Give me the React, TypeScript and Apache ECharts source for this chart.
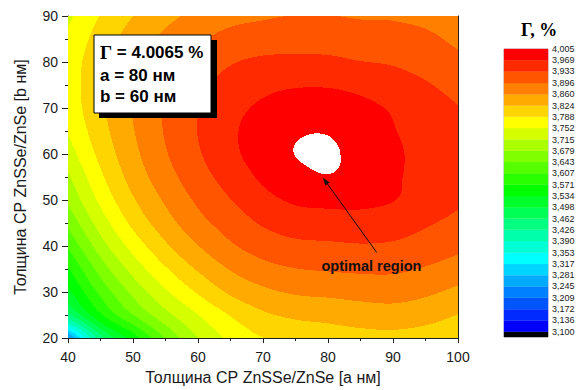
import React, { useEffect, useRef } from "react";
import * as echarts from "echarts";

// ---- data ----
const THICKNESS_A = [40, 45, 50, 55, 60, 65, 70, 75, 80, 85, 90, 95, 100];
const THICKNESS_B = [20, 25, 30, 35, 40, 45, 50, 55, 60, 65, 70, 75, 80, 85, 90];
// Γ (%) : one row per b value (b = 20 ... 90), columns a = 40 ... 100
const GAMMA_B20 = [3.23, 3.445, 3.55, 3.645, 3.715, 3.76, 3.787, 3.8, 3.805, 3.81, 3.812, 3.806, 3.794];
const GAMMA_B25 = [3.45, 3.565, 3.642, 3.703, 3.751, 3.79, 3.818, 3.83, 3.835, 3.842, 3.845, 3.838, 3.823];
const GAMMA_B30 = [3.525, 3.616, 3.688, 3.746, 3.792, 3.83, 3.852, 3.864, 3.868, 3.872, 3.874, 3.866, 3.852];
const GAMMA_B35 = [3.567, 3.658, 3.728, 3.784, 3.828, 3.862, 3.884, 3.895, 3.899, 3.902, 3.902, 3.893, 3.879];
const GAMMA_B40 = [3.612, 3.698, 3.765, 3.818, 3.859, 3.891, 3.912, 3.924, 3.927, 3.93, 3.928, 3.918, 3.905];
const GAMMA_B45 = [3.652, 3.732, 3.797, 3.845, 3.884, 3.912, 3.937, 3.951, 3.954, 3.956, 3.95, 3.937, 3.924];
const GAMMA_B50 = [3.685, 3.76, 3.82, 3.865, 3.902, 3.932, 3.958, 3.974, 3.978, 3.977, 3.97, 3.954, 3.938];
const GAMMA_B55 = [3.71, 3.781, 3.838, 3.881, 3.918, 3.948, 3.975, 3.995, 4.0035, 3.993, 3.974, 3.958, 3.944];
const GAMMA_B60 = [3.735, 3.798, 3.85, 3.893, 3.929, 3.96, 3.986, 4.0055, 4.0065, 3.999, 3.975, 3.96, 3.945];
const GAMMA_B65 = [3.754, 3.81, 3.858, 3.899, 3.934, 3.963, 3.985, 4.001, 4.0035, 3.993, 3.971, 3.957, 3.942];
const GAMMA_B70 = [3.765, 3.817, 3.862, 3.9, 3.932, 3.958, 3.975, 3.986, 3.988, 3.979, 3.965, 3.949, 3.934];
const GAMMA_B75 = [3.768, 3.818, 3.86, 3.896, 3.924, 3.947, 3.96, 3.966, 3.966, 3.959, 3.947, 3.936, 3.922];
const GAMMA_B80 = [3.767, 3.814, 3.853, 3.885, 3.91, 3.93, 3.94, 3.941, 3.94, 3.934, 3.93, 3.921, 3.906];
const GAMMA_B85 = [3.758, 3.804, 3.84, 3.869, 3.891, 3.908, 3.914, 3.919, 3.918, 3.913, 3.911, 3.905, 3.887];
const GAMMA_B90 = [3.745, 3.79, 3.824, 3.85, 3.87, 3.885, 3.892, 3.897, 3.897, 3.893, 3.892, 3.884, 3.868];
const GAMMA = [
  GAMMA_B20, GAMMA_B25, GAMMA_B30, GAMMA_B35, GAMMA_B40, GAMMA_B45, GAMMA_B50, GAMMA_B55,
  GAMMA_B60, GAMMA_B65, GAMMA_B70, GAMMA_B75, GAMMA_B80, GAMMA_B85, GAMMA_B90,
];
// contour levels (colour-scale labels)
const LEVELS = [
  3.1, 3.136, 3.172, 3.209, 3.245, 3.281, 3.317, 3.353, 3.39, 3.426, 3.462, 3.498, 3.534,
  3.571, 3.607, 3.643, 3.679, 3.715, 3.752, 3.788, 3.824, 3.86, 3.896, 3.933, 3.969, 4.005,
];
const COLORBAR_FLOOR = 3.083;

// ---- styles ----
const PALETTE = [
  "#0000ff", "#002aff", "#0055ff", "#0080ff", "#00aaff", "#00d5ff", "#00ffff",
  "#00ffd5", "#00ffaa", "#00ff80", "#00ff55", "#00ff2a", "#00ff00",
  "#2aff00", "#55ff00", "#80ff00", "#aaff00", "#d5ff00", "#ffff00",
  "#ffd500", "#ffaa00", "#ff8000", "#ff5500", "#ff2a00", "#ff0000",
];
const BELOW_COLOR = "#000000";
const ABOVE_COLOR = "#ffffff";
const SANS = "'Liberation Sans', Arial, sans-serif";
const SERIF = "'Liberation Serif', 'Times New Roman', serif";
const ANNOT_FROM = [87.5, 38.6];
const ANNOT_TO = [79.2, 54.9];
const ANNOT_TEXT_AT = [79.0, 35.7];

function bandOf(v: number): number {
  if (v <= LEVELS[0]) return -1;
  for (let k = 0; k < LEVELS.length - 1; k++) if (v <= LEVELS[k + 1]) return k;
  return LEVELS.length - 1;
}
function colorOfBand(k: number): string {
  if (k < 0) return BELOW_COLOR;
  if (k >= PALETTE.length) return ABOVE_COLOR;
  return PALETTE[k];
}
const nA = THICKNESS_A.length;
const nB = THICKNESS_B.length;
function gridVal(i: number, j: number): number {
  // linear extension beyond the edges of the table
  if (i < 0) return 2 * gridVal(0, j) - gridVal(1, j);
  if (i > nA - 1) return 2 * gridVal(nA - 1, j) - gridVal(nA - 2, j);
  if (j < 0) return 2 * gridVal(i, 0) - gridVal(i, 1);
  if (j > nB - 1) return 2 * gridVal(i, nB - 1) - gridVal(i, nB - 2);
  return GAMMA[j][i];
}
function cr(p0: number, p1: number, p2: number, p3: number, t: number) {
  return p1 + 0.5 * t * (p2 - p0 + t * (2 * p0 - 5 * p1 + 4 * p2 - p3 + t * (3 * (p1 - p2) + p3 - p0)));
}
function sample(a: number, b: number): number {
  const fx = (a - THICKNESS_A[0]) / (THICKNESS_A[1] - THICKNESS_A[0]);
  const fy = (b - THICKNESS_B[0]) / (THICKNESS_B[1] - THICKNESS_B[0]);
  const i = Math.max(0, Math.min(nA - 2, Math.floor(fx)));
  const j = Math.max(0, Math.min(nB - 2, Math.floor(fy)));
  const tx = fx - i;
  const ty = fy - j;
  const col: number[] = [];
  for (let m = -1; m <= 2; m++) {
    col.push(cr(gridVal(i - 1, j + m), gridVal(i, j + m), gridVal(i + 1, j + m), gridVal(i + 2, j + m), tx));
  }
  return cr(col[0], col[1], col[2], col[3], ty);
}

export default function App() {
  const ref = useRef<HTMLDivElement>(null);
  useEffect(() => {
    if (!ref.current) return;
    const chart = echarts.init(ref.current, undefined, { renderer: "svg" });

    const cells: number[][] = [];
    for (let j = 0; j < nB - 1; j++)
      for (let i = 0; i < nA - 1; i++) cells.push([THICKNESS_A[i], THICKNESS_B[j], GAMMA[j][i]]);

    const bands: number[][] = [[COLORBAR_FLOOR, LEVELS[0], -1]];
    for (let k = 0; k < LEVELS.length - 1; k++) bands.push([LEVELS[k], LEVELS[k + 1], k]);

    let best = { v: -Infinity, a: 0, b: 0 };
    GAMMA.forEach((row, j) =>
      row.forEach((v, i) => {
        if (v > best.v) best = { v, a: THICKNESS_A[i], b: THICKNESS_B[j] };
      })
    );

    const axisFont = { fontFamily: SANS, fontSize: 14, color: "#1a1a1a" };
    chart.setOption({
      animation: false,
      title: {
        text: "Γ, %",
        left: 516,
        top: 16,
        textStyle: { fontFamily: SERIF, fontWeight: "bold", fontSize: 18, color: "#000" },
      },
      grid: [
        { left: 68, top: 16, width: 390, height: 328, show: false },
        { left: 504, top: 49, width: 44, height: 288, show: true, borderColor: "#b4b4c4", borderWidth: 1 },
      ],
      xAxis: [
        {
          gridIndex: 0, type: "value", min: 40, max: 100, interval: 10,
          name: "Толщина СР ZnSSe/ZnSe [a нм]", nameLocation: "middle", nameGap: 30,
          nameTextStyle: { fontFamily: SANS, fontSize: 16, color: "#1a1a1a" },
          axisLine: { show: true, onZero: false, lineStyle: { color: "#222", width: 1 } },
          axisTick: { show: true, inside: false, length: 5, lineStyle: { color: "#222" } },
          minorTick: { show: true, splitNumber: 2, length: 3, lineStyle: { color: "#222" } },
          axisLabel: { ...axisFont, margin: 12 },
          splitLine: { show: false },
        },
        {
          gridIndex: 0, type: "value", min: 40, max: 100, position: "top",
          axisLine: { show: true, onZero: false, lineStyle: { color: "#222", width: 1 } },
          axisTick: { show: false }, axisLabel: { show: false }, splitLine: { show: false },
        },
        { gridIndex: 1, type: "value", min: 0, max: 1, show: false },
      ],
      yAxis: [
        {
          gridIndex: 0, type: "value", min: 20, max: 90, interval: 10,
          name: "Толщина СР ZnSSe/ZnSe [b нм]", nameLocation: "middle", nameGap: 40,
          nameTextStyle: { fontFamily: SANS, fontSize: 16, color: "#1a1a1a" },
          axisLine: { show: true, onZero: false, lineStyle: { color: "#222", width: 1 } },
          axisTick: { show: true, inside: false, length: 6, lineStyle: { color: "#222" } },
          minorTick: { show: true, splitNumber: 2, length: 3, lineStyle: { color: "#222" } },
          axisLabel: { ...axisFont, margin: 10 },
          splitLine: { show: false },
        },
        {
          gridIndex: 0, type: "value", min: 20, max: 90, position: "right",
          axisLine: { show: true, onZero: false, lineStyle: { color: "#222", width: 1 } },
          axisTick: { show: false }, axisLabel: { show: false }, splitLine: { show: false },
        },
        {
          gridIndex: 1, type: "value", min: COLORBAR_FLOOR, max: LEVELS[LEVELS.length - 1],
          position: "right",
          axisLine: { show: false }, axisTick: { show: false }, splitLine: { show: false },
          axisLabel: {
            show: true, customValues: LEVELS, margin: 4,
            fontFamily: SANS, fontSize: 9, color: "#1a1a1a",
            formatter: (v: number) => v.toFixed(3).replace(".", ","),
          },
        },
      ],
      series: [
        {
          type: "custom",
          coordinateSystem: "cartesian2d",
          xAxisIndex: 0,
          yAxisIndex: 0,
          silent: true,
          clip: true,
          encode: { x: 0, y: 1 },
          data: cells,
          renderItem: (params: any, api: any) => {
            const idx = params.dataIndex;
            const i = idx % (nA - 1);
            const j = Math.floor(idx / (nA - 1));
            const a0 = THICKNESS_A[i], a1 = THICKNESS_A[i + 1];
            const b0 = THICKNESS_B[j], b1 = THICKNESS_B[j + 1];
            const pTL = api.coord([a0, b1]);
            const pBR = api.coord([a1, b0]);
            const x0 = Math.round(pTL[0]), x1 = Math.round(pBR[0]);
            const y0 = Math.round(pTL[1]), y1 = Math.round(pBR[1]);
            const children: any[] = [];
            const push = (x: number, y: number, w: number, band: number) => {
              children.push({
                type: "rect",
                shape: { x, y, width: w, height: 1 },
                style: { fill: colorOfBand(band) },
              });
            };
            for (let y = y0; y < y1; y++) {
              const b = b1 + ((y + 0.5 - pTL[1]) / (pBR[1] - pTL[1])) * (b0 - b1);
              let start = x0;
              let cur: number | null = null;
              for (let x = x0; x < x1; x++) {
                const a = a0 + ((x + 0.5 - pTL[0]) / (pBR[0] - pTL[0])) * (a1 - a0);
                const band = bandOf(sample(a, b));
                if (band !== cur) {
                  if (cur !== null) push(start, y, x - start, cur);
                  start = x;
                  cur = band;
                }
              }
              if (cur !== null) push(start, y, x1 - start, cur);
            }
            return { type: "group", children };
          },
        },
        {
          type: "custom",
          coordinateSystem: "cartesian2d",
          xAxisIndex: 2,
          yAxisIndex: 2,
          silent: true,
          encode: { y: [0, 1] },
          data: bands,
          renderItem: (params: any, api: any) => {
            const lo = api.value(0);
            const hi = api.value(1);
            const k = api.value(2);
            const p0 = api.coord([0, hi]);
            const p1 = api.coord([1, lo]);
            return {
              type: "rect",
              shape: { x: p0[0], y: p0[1], width: p1[0] - p0[0], height: p1[1] - p0[1] },
              style: { fill: colorOfBand(k), stroke: colorOfBand(k), lineWidth: 0.3 },
            };
          },
        },
      ],
    });

    const from = chart.convertToPixel({ gridIndex: 0 }, ANNOT_FROM) as number[];
    const to = chart.convertToPixel({ gridIndex: 0 }, ANNOT_TO) as number[];
    const txt = chart.convertToPixel({ gridIndex: 0 }, ANNOT_TEXT_AT) as number[];
    const dx = to[0] - from[0];
    const dy = to[1] - from[1];
    const len = Math.hypot(dx, dy);
    const ux = dx / len, uy = dy / len;
    const headL = 8, headW = 2.6;
    const bx = to[0] - ux * headL, by = to[1] - uy * headL;

    chart.setOption({
      graphic: [
        {
          type: "line",
          shape: { x1: from[0], y1: from[1], x2: bx, y2: by },
          style: { stroke: "#111", lineWidth: 1 },
          z: 100,
        },
        {
          type: "polygon",
          shape: {
            points: [
              [to[0], to[1]],
              [bx - uy * headW, by + ux * headW],
              [bx + uy * headW, by - ux * headW],
            ],
          },
          style: { fill: "#111" },
          z: 100,
        },
        {
          type: "text",
          x: txt[0],
          y: txt[1],
          style: {
            text: "optimal region",
            fontFamily: SANS,
            fontWeight: "bold",
            fontSize: 14.5,
            fill: "#111",
            verticalAlign: "middle",
          },
          z: 100,
        },
        {
          type: "rect",
          shape: { x: 99, y: 40, width: 118, height: 78 },
          style: { fill: "#000" },
          z: 100,
        },
        {
          type: "rect",
          shape: { x: 94, y: 35, width: 117, height: 78 },
          style: { fill: "#fff", stroke: "#000", lineWidth: 1 },
          z: 101,
        },
        {
          type: "text",
          x: 100,
          y: 52,
          style: {
            text: "{g|Γ} = " + best.v.toFixed(4) + " %",
            fontFamily: SANS,
            fontWeight: "bold",
            fontSize: 17,
            fill: "#000",
            verticalAlign: "middle",
            rich: {
              g: { fontFamily: SERIF, fontWeight: "bold", fontSize: 19, fill: "#000" },
            },
          },
          z: 102,
        },
        {
          type: "text",
          x: 100,
          y: 75,
          style: {
            text: "a = " + best.a + " нм",
            fontFamily: SANS,
            fontWeight: "bold",
            fontSize: 17,
            fill: "#000",
            verticalAlign: "middle",
          },
          z: 102,
        },
        {
          type: "text",
          x: 100,
          y: 96,
          style: {
            text: "b = " + best.b + " нм",
            fontFamily: SANS,
            fontWeight: "bold",
            fontSize: 17,
            fill: "#000",
            verticalAlign: "middle",
          },
          z: 102,
        },
      ],
    });

    return () => chart.dispose();
  }, []);
  return (
    <div
      ref={ref}
      style={{ position: "absolute", left: 0, top: 0, width: 578, height: 390, background: "#fff" }}
    />
  );
}
